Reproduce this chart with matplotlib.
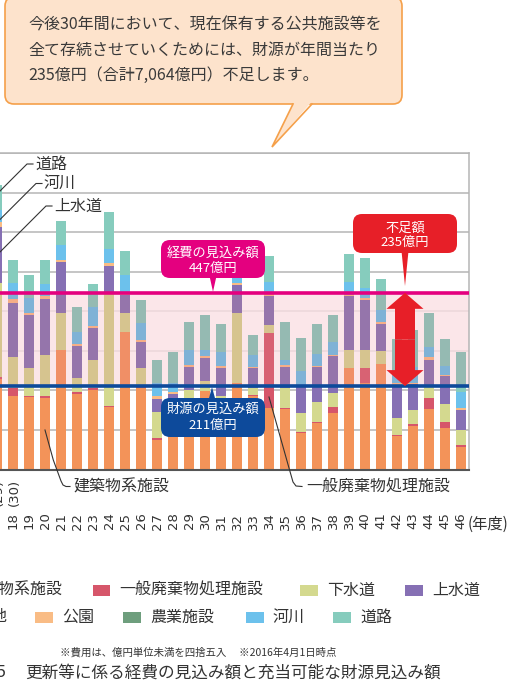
import matplotlib
matplotlib.use("Agg")
import matplotlib.pyplot as plt
from matplotlib.patches import FancyBboxPatch, Polygon, Rectangle, FancyArrow
from matplotlib.colors import to_rgb
import numpy as np

plt.rcParams['font.family'] = ['Noto Sans CJK JP', 'DejaVu Sans']

# ---------------------------------------------------------------- data
years = ["2017", "18", "19", "20", "21", "22", "23", "24", "25", "26",
         "27", "28", "29", "30", "31", "32", "33", "34", "35", "36",
         "37", "38", "39", "40", "41", "42", "43", "44", "45", "46"]
heisei = ["(29)", "(30)"]          # 平成年度 for the first two years

categories = ["建築物系施設", "一般廃棄物処理施設", "下水道", "上水道", "墓地",
              "公園", "農業施設", "河川", "道路"]
colors = ["#F39359", "#D6566A", "#D4D98F", "#8670B4", "#A9A9A9",
          "#F9BC85", "#6E9E7D", "#6CC1EC", "#86CCBD"]

building = [230, 186, 184, 182, 302, 191, 201, 157, 349, 207,
            75, 95, 150, 199, 160, 219, 185, 155, 152, 92,
            118, 142, 256, 218, 267, 84, 111, 154, 105, 58]
waste = [5, 20, 3, 3, 0, 5, 5, 3, 0, 3,
         4, 3, 4, 0, 3, 0, 3, 190, 3, 3,
         3, 17, 0, 38, 0, 3, 3, 26, 16, 4]
sewer = [237, 79, 71, 105, 93, 36, 71, 290, 46, 47,
         66, 55, 47, 25, 24, 176, 18, 21, 51, 49,
         50, 34, 47, 47, 33, 43, 37, 34, 45, 38]
water = [142, 136, 133, 142, 129, 80, 81, 64, 47, 66,
         34, 38, 59, 58, 69, 72, 51, 72, 54, 66,
         88, 93, 135, 127, 68, 84, 65, 63, 70, 50]
cemetery = [0] * 30
park = [13, 10, 5, 8, 6, 6, 4, 8, 7, 4,
        6, 5, 5, 4, 5, 5, 3, 5, 4, 4,
        4, 4, 4, 5, 4, 4, 4, 8, 4, 6]
farm = [0] * 30
river = [30, 41, 38, 29, 37, 31, 50, 36, 43, 43,
         34, 22, 38, 17, 37, 18, 30, 31, 13, 36,
         30, 33, 32, 25, 32, 25, 40, 26, 22, 40]
road = [63, 58, 58, 60, 62, 63, 58, 93, 60, 58,
        57, 80, 71, 87, 70, 15, 50, 67, 97, 82,
        76, 68, 71, 75, 78, 87, 93, 86, 68, 102]
series = [building, waste, sewer, water, cemetery, park, farm, river, road]

cost_estimate = 447      # 経費の見込み額（億円/年）
revenue_estimate = 211   # 財源の見込み額（億円/年）
shortfall = 235          # 不足額（億円/年）

# ---------------------------------------------------------------- figure
W, H = 518, 685
fig = plt.figure(figsize=(W / 100, H / 100), dpi=100)
ax = fig.add_axes([-11 / W, (H - 469.5) / H, 480 / W, 316.2 / H])

ax.set_xlim(-0.5, 29.5)
ax.set_ylim(0, 800)

band_tint = np.array([250, 224, 228]) / 255


def tinted(c):
    c = np.array(to_rgb(c))
    return tuple(np.clip(0.85 * c * band_tint + 0.15 * band_tint, 0, 1))


# clip region for the shortfall band
band_clip = Rectangle((-0.5, revenue_estimate), 30,
                      cost_estimate - revenue_estimate,
                      transform=ax.transData, facecolor="none")

x = np.arange(len(years))
bottom = np.zeros(len(years))
for vals, col in zip(series, colors):
    vals = np.asarray(vals, dtype=float)
    ax.bar(x, vals, 0.67, bottom=bottom, color=col, linewidth=0, zorder=2)
    shaded = ax.bar(x, vals, 0.67, bottom=bottom, color=tinted(col),
                    linewidth=0, zorder=2.1)
    for p in shaded:
        p.set_clip_path(band_clip)
    bottom += vals

# pink band background (grid shows faintly through it)
ax.axhspan(revenue_estimate, cost_estimate, facecolor=band_tint, alpha=0.8,
           linewidth=0, zorder=1.5)

ax.set_yticks(np.arange(0, 801, 100))
ax.yaxis.grid(True, color="#B5B5B5", linewidth=1.1)
ax.set_axisbelow(True)
ax.tick_params(axis="y", length=0, labelleft=False)
ax.set_xticks(x)
ax.set_xticklabels(years, rotation=90, fontsize=9.5, color="#333333",
                   family="DejaVu Sans")
ax.tick_params(axis="x", length=0, pad=31)
ax.spines["left"].set_visible(False)
for s in ("top", "right"):
    ax.spines[s].set_color("#B5B5B5")
    ax.spines[s].set_linewidth(1.1)
ax.spines["bottom"].set_color("#555555")
ax.spines["bottom"].set_linewidth(1.5)

ax.axhline(cost_estimate, color="#E4007F", linewidth=2.6, zorder=4)
ax.axhline(revenue_estimate, color="#0D4A9B", linewidth=2.6, zorder=4)

# double-headed arrow marking the shortfall
mid = (cost_estimate + revenue_estimate) / 2
arrow_x = 25.5
for end in (cost_estimate, revenue_estimate):
    ax.add_patch(FancyArrow(arrow_x, mid, 0, end - mid, width=20 / 16,
                            head_width=37 / 16, head_length=16 / 0.395,
                            length_includes_head=True, color="#E71F28",
                            linewidth=0, zorder=5))

# ---------------------------------------------------------------- overlay (pixel coordinates)
ov = fig.add_axes([0, 0, 1, 1], zorder=10)
ov.set_xlim(0, W)
ov.set_ylim(H, 0)
ov.axis("off")


def to_px(xd, yd):
    X, Y = ax.transData.transform((xd, yd))
    return X, H - Y


TXT = "#333333"

# header speech bubble
bubble_fc, bubble_ec = "#FDE3CC", "#F5A04A"
ov.add_patch(FancyBboxPatch((5, -3), 397, 107,
                            boxstyle="round,pad=0,rounding_size=9",
                            fc=bubble_fc, ec=bubble_ec, lw=1.2))
ov.add_patch(Polygon([(294, 102.5), (272, 147), (311, 102.5)], closed=True,
                     fc=bubble_fc, ec="none"))
ov.plot([293, 272, 312], [104, 147, 104], color=bubble_ec, lw=1.2,
        solid_joinstyle="miter")
header = ["今後30年間において、現在保有する公共施設等を",
          "全て存続させていくためには、財源が年間当たり",
          f"{shortfall}億円（合計7,064億円）不足します。"]
for i, line in enumerate(header):
    ov.text(28, 25 + 25 * i, line, fontsize=11.5, color="#3A3A3A",
            ha="left", va="center")


def callout(x0, x1, y0, y1, color, lines, tip, base_y, text_y):
    ov.add_patch(FancyBboxPatch((x0, y0), x1 - x0, y1 - y0,
                                boxstyle="round,pad=0,rounding_size=9",
                                fc=color, ec="none"))
    tx, ty = tip
    ov.add_patch(Polygon([(tx - 3.5, base_y), (tx + 3.5, base_y), (tx, ty)],
                         closed=True, fc=color, ec="none"))
    cx = (x0 + x1) / 2
    for line, yy in zip(lines, text_y):
        ov.text(cx, yy, line, fontsize=9.5, color="white",
                ha="center", va="center")


_, y_cost = to_px(0, cost_estimate)
_, y_rev = to_px(0, revenue_estimate)

callout(161, 265, 240, 278, "#E4007F",
        ["経費の見込み額", f"{cost_estimate}億円"],
        (213, y_cost - 1), 276, [253, 268])
callout(161, 265, 398, 437, "#0D4A9B",
        ["財源の見込み額", f"{revenue_estimate}億円"],
        (212, y_rev + 1), 400, [409, 425])
callout(353, 457, 214, 253, "#E71F28",
        ["不足額", f"{shortfall}億円"],
        (405, 286), 251, [228, 242])

# Heisei year labels above the first two ticks
for i, lab in enumerate(heisei):
    px, _ = to_px(i, 0)
    ov.text(px + 1, 479, lab, rotation=90, fontsize=9.5, color=TXT,
            ha="center", va="top", family="DejaVu Sans")
ov.text(468, 524, "(年度)", fontsize=11, color=TXT, ha="left", va="center")

# leader labels for the first bar
bx, _ = to_px(0, 0)
for lab, (lx, ly) in zip(["道路", "河川", "上水道"],
                         [(27, 164), (36, 183.5), (46, 206)]):
    ov.plot([bx, lx, lx + 6], [ly + (lx - bx), ly, ly], color=TXT, lw=0.8)
    ov.text(lx + 8, ly, lab, fontsize=11.5, color=TXT, ha="left", va="center")

# leader labels below the plot
ov.plot([45, 53.3, 61, 63, 66, 70], [430, 460, 481, 485, 486.5, 486.5],
        color=TXT, lw=0.8)
ov.text(73, 487, "建築物系施設", fontsize=11.5, color=TXT, ha="left", va="center")
ov.plot([269, 289, 293, 296, 302], [397, 468, 482, 486, 486.5],
        color=TXT, lw=0.8)
ov.text(306, 487, "一般廃棄物処理施設", fontsize=11.5, color=TXT,
        ha="left", va="center")

# legend
legend_rows = [
    [(-61, 0), (92.7, 1), (300, 2), (405, 3)],
    [(-52, 4), (35, 5), (123, 6), (246, 7), (333, 8)],
]
for row_y, row in zip([590, 617], legend_rows):
    for bx0, k in row:
        ov.add_patch(Rectangle((bx0, row_y - 5.5), 17.5, 11, fc=colors[k],
                               ec="none"))
        ov.text(bx0 + 27, row_y, categories[k], fontsize=11.5, color=TXT,
                ha="left", va="center")

# notes and caption
ov.text(60, 652, "※費用は、億円単位未満を四捨五入　 ※2016年4月1日時点",
        fontsize=7.5, color=TXT, ha="left", va="center")
ov.text(6, 673, "図5", fontsize=12, color=TXT, ha="right", va="center")
ov.text(25, 673, "更新等に係る経費の見込み額と充当可能な財源見込み額",
        fontsize=12, color=TXT, ha="left", va="center")

fig.savefig("out.png", dpi=100)
